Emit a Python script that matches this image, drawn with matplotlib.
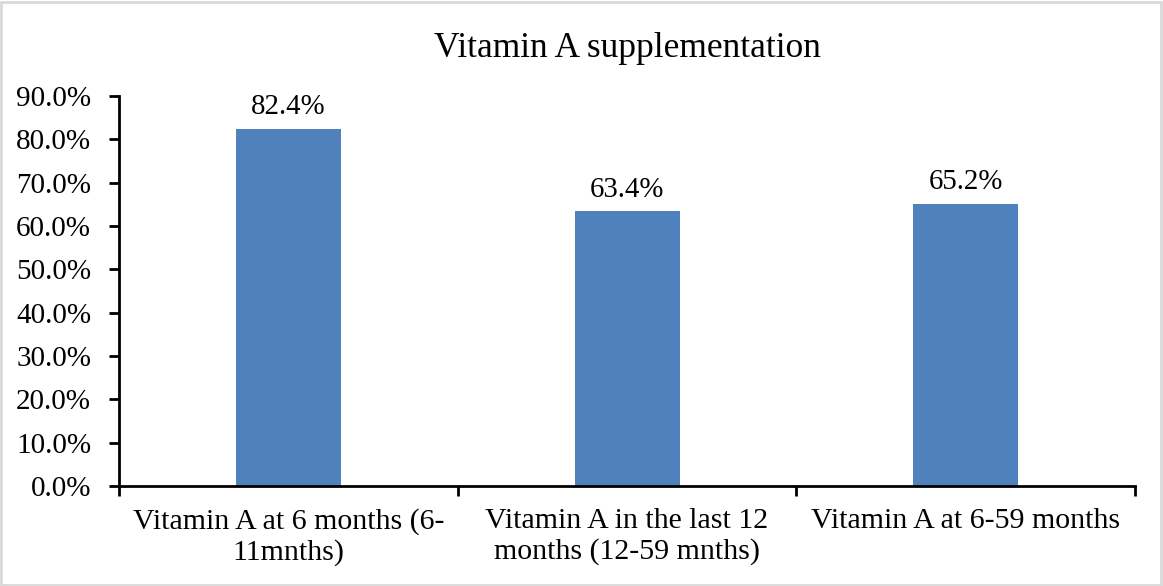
import matplotlib
matplotlib.use("Agg")
import matplotlib.pyplot as plt
from matplotlib.patches import Rectangle

categories = ["Vitamin A at 6 months (6-\n11mnths)",
              "Vitamin A in the last 12\nmonths (12-59 mnths)",
              "Vitamin A at 6-59 months"]
values = [82.4, 63.4, 65.2]
value_labels = ["82.4%", "63.4%", "65.2%"]
yticks = [0, 10, 20, 30, 40, 50, 60, 70, 80, 90]
ytick_labels = ["0.0%", "10.0%", "20.0%", "30.0%", "40.0%", "50.0%", "60.0%", "70.0%", "80.0%", "90.0%"]
title = "Vitamin A supplementation"

plt.rcParams['font.family'] = ['Liberation Serif', 'DejaVu Serif']

fig = plt.figure(figsize=(11.63, 5.86), dpi=100)
fig.patch.set_facecolor('white')
fig.patches.append(Rectangle((0.001, 0.002), 0.997, 0.995, transform=fig.transFigure,
                             fill=False, edgecolor='#D9D9D9', linewidth=2))

ax = fig.add_axes([0.1023, 0.1706, 0.8737, 0.6654])
x = list(range(len(values)))
ax.bar(x, values, width=0.31, color='#4F81BD', zorder=2)
for xi, v, lab in zip(x, values, value_labels):
    ax.text(xi, v + 2.0, lab, ha='center', va='bottom', fontsize=20.8)

ax.set_xlim(-0.5, len(values) - 0.5)
ax.set_ylim(0, 90)
ax.set_yticks(yticks)
ax.set_yticklabels(ytick_labels, fontsize=21)
ax.set_xticks(x)
ax.set_xticklabels(categories, fontsize=21.5, linespacing=1.2)
ax.tick_params(axis='x', length=0, pad=16)
ax.set_xticks([-0.5, 0.5, 1.5, 2.5], minor=True)
ax.tick_params(axis='x', which='minor', length=7, width=2, direction='out')
ax.tick_params(axis='y', length=7, width=2, direction='out', pad=13)
for s in ['top', 'right']:
    ax.spines[s].set_visible(False)
for s in ['left', 'bottom']:
    ax.spines[s].set_linewidth(2)
ax.set_title(title, fontsize=25.5, pad=28)

fig.savefig("out.png", dpi=100, facecolor='white')
